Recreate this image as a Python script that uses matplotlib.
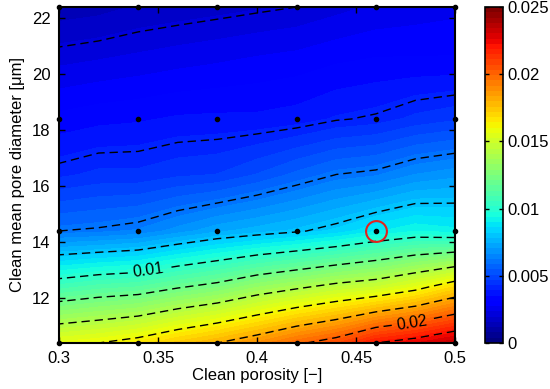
import numpy as np
import matplotlib
matplotlib.use("Agg")
import matplotlib.pyplot as plt
from matplotlib.colors import Normalize
import matplotlib.cm as cm

plt.rcParams['font.family'] = ['Liberation Sans', 'DejaVu Sans']

# Data grid
porosity = [0.30, 0.32, 0.34, 0.36, 0.38, 0.40, 0.42, 0.44, 0.46, 0.48, 0.50]
diameter = [10.4, 12.4, 14.4, 16.4, 18.4, 20.4, 22.4]
z_d104 = [0.0157, 0.0160, 0.0165, 0.0173, 0.0180, 0.0188, 0.0198, 0.0206, 0.0220, 0.0226, 0.0234]
z_d124 = [0.0107, 0.0111, 0.0113, 0.0119, 0.0124, 0.0132, 0.0138, 0.0144, 0.0148, 0.0156, 0.0168]
z_d144 = [0.0060, 0.0061, 0.0063, 0.0068, 0.0073, 0.0076, 0.0079, 0.0083, 0.0089, 0.0093, 0.0091]
z_d164 = [0.0042, 0.0044, 0.0044, 0.0046, 0.0047, 0.0051, 0.00558, 0.00602, 0.00619, 0.00665, 0.00689]
z_d184 = [0.00324, 0.00338, 0.00345, 0.00357, 0.0036, 0.0036, 0.0037, 0.00395, 0.00408, 0.0044, 0.0046]
z_d204 = [0.00228, 0.00239, 0.0025, 0.00262, 0.00272, 0.00284, 0.00293, 0.0031, 0.0032, 0.0032, 0.0032]
z_d224 = [0.0013, 0.0014, 0.0016, 0.0017, 0.0018, 0.0019, 0.0020, 0.0022, 0.0024, 0.0025, 0.0026]

# Measurement points
meas_porosity = [0.30, 0.34, 0.38, 0.42, 0.46, 0.50]
meas_diameter = [10.4, 14.4, 18.4, 22.4]
highlight = (0.46, 14.4)

line_levels = [0.002, 0.004, 0.006, 0.008, 0.010, 0.012, 0.014, 0.016, 0.018, 0.020, 0.022, 0.024]
cbar_ticks = [0, 0.005, 0.01, 0.015, 0.02, 0.025]
vmin, vmax = 0.0, 0.025

X, Y = np.meshgrid(porosity, diameter)
Z = np.array([z_d104, z_d124, z_d144, z_d164, z_d184, z_d204, z_d224])

fig = plt.figure(figsize=(5.5, 3.89), dpi=100)
ax = fig.add_axes([0.1073, 0.1183, 0.72, 0.8637])
cax = fig.add_axes([0.8818, 0.1183, 0.0327, 0.8637])

cmap = matplotlib.colormaps['jet'].resampled(64)
fill_levels = np.linspace(vmin, vmax, 65)
cf = ax.contourf(X, Y, Z, levels=fill_levels, cmap=cmap, vmin=vmin, vmax=vmax)
cf.set_edgecolor('face')
cf.set_linewidth(0.6)

cs = ax.contour(X, Y, Z, levels=line_levels, colors='k', linewidths=1.0,
                linestyles=[(0, (6, 3.5))])
ax.clabel(cs, inline=True, fmt='%g', fontsize=11.5,
          manual=[(0.345, 13.0), (0.478, 11.3)])

mx, my = np.meshgrid(meas_porosity, meas_diameter)
ax.plot(mx.ravel(), my.ravel(), 'o', color='k', markersize=3, clip_on=False, zorder=5)
ax.plot([highlight[0]], [highlight[1]], 'o', markerfacecolor='none', markeredgecolor='#e3211c',
        markersize=15, markeredgewidth=1.5, zorder=6)

ax.set_xlim(0.3, 0.5)
ax.set_ylim(10.4, 22.4)
ax.set_xticks([0.3, 0.35, 0.4, 0.45, 0.5])
ax.set_xticklabels(['0.3', '0.35', '0.4', '0.45', '0.5'])
ax.set_yticks([12, 14, 16, 18, 20, 22])
ax.tick_params(direction='in', top=True, right=True, length=4, width=1, labelsize=12, pad=6)
for s in ax.spines.values():
    s.set_linewidth(1.5)
ax.set_xlabel('Clean porosity [−]', fontsize=12, labelpad=1)
ax.set_ylabel('Clean mean pore diameter [μm]', fontsize=12, labelpad=5)

sm = cm.ScalarMappable(norm=Normalize(vmin, vmax), cmap=cmap)
cb = fig.colorbar(sm, cax=cax, ticks=cbar_ticks)
cb.ax.set_yticklabels(['0', '0.005', '0.01', '0.015', '0.02', '0.025'])
cb.ax.tick_params(direction='in', length=3, width=1, labelsize=12, left=True, right=True, pad=3)
cb.outline.set_linewidth(1.2)

fig.savefig('out.png', dpi=100)
